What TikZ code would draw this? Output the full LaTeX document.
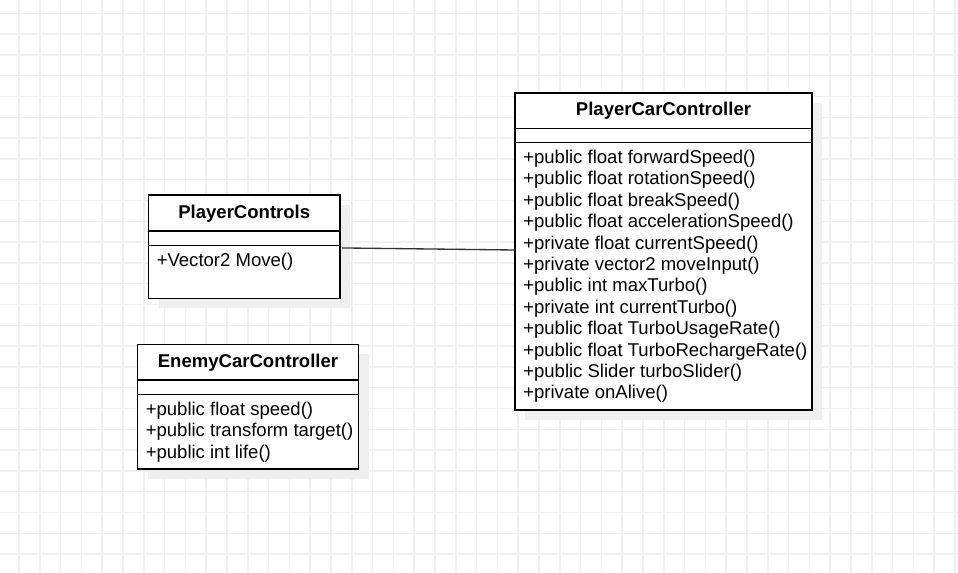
\documentclass[tikz,border=0pt]{standalone}
\usepackage{fontspec}
\setmainfont{Liberation Sans}
\usetikzlibrary{calc}
\definecolor{gridc}{HTML}{F0F0F0}
\definecolor{shadowc}{HTML}{EFEFEF}
\definecolor{connc}{HTML}{333333}
\begin{document}
\begin{tikzpicture}[x=0.75pt,y=-0.75pt,
  gridline/.style={draw=gridc,line width=1.1pt},
  shadowbox/.style={fill=shadowc,draw=none},
  classbox/.style={draw=black,fill=white,line width=1pt,inner sep=0pt},
  sepline/.style={draw=black,line width=1pt},
  titletext/.style={font=\fontsize{13.9pt}{16pt}\selectfont\bfseries,anchor=base,inner sep=0pt},
  membertext/.style={font=\fontsize{13.9pt}{16pt}\selectfont,anchor=base west,inner sep=0pt},
  conn/.style={draw=connc,line width=1pt}]
\useasboundingbox (0,0) rectangle (958,573);
\fill[white] (0,0) rectangle (958,573);
% grid
\foreach \i in {0,...,45}{
  \pgfmathsetmacro\gx{19+20.8*\i}
  \ifdim\gx pt<958pt \draw[gridline] (\gx,0) -- (\gx,573); \fi
}
\foreach \j in {0,...,27}{
  \pgfmathsetmacro\gy{13.3+20.8*\j}
  \ifdim\gy pt<573pt \draw[gridline] (0,\gy) -- (958,\gy); \fi
}
% shadows
\fill[shadowbox] (525,103) rectangle (822,420);
\fill[shadowbox] (158.5,205) rectangle (350,308.5);
\fill[shadowbox] (147.5,354.5) rectangle (368.5,479);
% PlayerCarController
\node[classbox,minimum width=222.75pt,minimum height=237.75pt] (pcc) at (663.5,251.5) {};
\draw[sepline] (515,128.3) -- (812,128.3);
\draw[sepline] (515,142.3) -- (812,142.3);
\node[titletext] (pcct) at (663.5,116) {PlayerCarController};
\foreach \t [count=\k from 0] in {
  {+public float forwardSpeed()},
  {+public float rotationSpeed()},
  {+public float breakSpeed()},
  {+public float accelerationSpeed()},
  {+private float currentSpeed()},
  {+private vector2 moveInput()},
  {+public int maxTurbo()},
  {+private int currentTurbo()},
  {+public float TurboUsageRate()},
  {+public float TurboRechargeRate()},
  {+public Slider turboSlider()},
  {+private onAlive()}}{
  \node[membertext] (pccm\k) at (523,163.5+21.4*\k) {\t};
}
% PlayerControls
\node[classbox,minimum width=143.6pt,minimum height=77.6pt] (pc) at (244.25,246.75) {};
\draw[sepline] (148.5,231) -- (340,231);
\draw[sepline] (148.5,245.3) -- (340,245.3);
\node[titletext] (pct) at (244.25,219) {PlayerControls};
\node[membertext] (pcm0) at (156.5,266.5) {+Vector2 Move()};
% EnemyCarController
\node[classbox,minimum width=165.75pt,minimum height=93.4pt] (ecc) at (248,406.75) {};
\draw[sepline] (137.5,380) -- (358.5,380);
\draw[sepline] (137.5,394.3) -- (358.5,394.3);
\node[titletext] (ecct) at (248,368) {EnemyCarController};
\foreach \t [count=\k from 0] in {
  {+public float speed()},
  {+public transform target()},
  {+public int life()}}{
  \node[membertext] (eccm\k) at (145.5,415.5+21.4*\k) {\t};
}
% connector
\draw[conn] ($(pc.east)+(1.5,1.2)$) -- ($(pcc.west)+(0,-1.5)$);
\end{tikzpicture}
\end{document}
